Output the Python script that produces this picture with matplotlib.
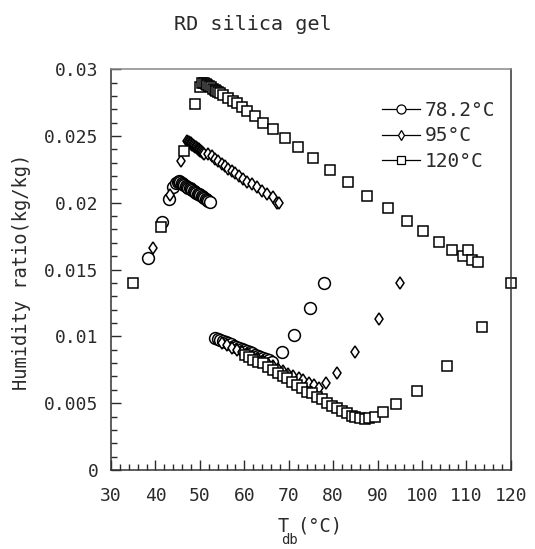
import matplotlib
matplotlib.use("Agg")
import matplotlib.pyplot as plt
from matplotlib.ticker import MultipleLocator

# 78.2 C regeneration (circles)
t_782 = [38.3, 41.5, 43.0, 44.0, 44.7, 45.0, 45.3, 45.6, 45.9, 46.2, 46.5, 46.8,
         47.1, 47.4, 47.7, 48.0, 48.3, 48.6, 48.9, 49.2, 49.5, 49.8, 50.1, 50.4,
         50.7, 51.0, 51.3, 51.6, 51.9, 52.3,
         53.4, 54.0, 54.6, 55.2, 55.8, 56.4, 57.0, 57.6, 58.2, 58.8, 59.4, 60.0,
         60.6, 61.2, 61.8, 62.4, 63.0, 63.6, 64.2, 64.8, 65.5, 66.2,
         68.5, 71.2, 74.8, 77.9]
w_782 = [0.01583, 0.01853, 0.0203, 0.0212, 0.0215, 0.02155, 0.0216, 0.02153,
         0.02147, 0.0214, 0.02134, 0.02127, 0.0212, 0.02114, 0.02107, 0.021,
         0.02094, 0.02087, 0.02081, 0.02075, 0.02068, 0.02062, 0.02055, 0.02049,
         0.02042, 0.02036, 0.02029, 0.02022, 0.02011, 0.02002,
         0.0099, 0.00982, 0.00973, 0.00965, 0.00956, 0.00948, 0.0094, 0.00931,
         0.00922, 0.00914, 0.00906, 0.00897, 0.00889, 0.0088, 0.00872, 0.00863,
         0.00855, 0.00846, 0.00838, 0.0083, 0.0082, 0.0081,
         0.00885, 0.0101, 0.0121, 0.0140]

# 95 C regeneration (diamonds)
t_95 = [39.5, 43.3, 45.75, 47.1, 47.3, 47.5, 47.7, 47.9, 48.1, 48.3, 48.5, 48.7,
        48.9, 49.1, 49.3, 49.5, 49.7, 49.9, 50.1, 50.3, 50.5, 50.7, 51.0,
        51.8, 52.7, 53.4, 54.1, 55.0, 55.65, 56.3,
        57.2, 57.9, 58.8, 59.7, 60.6, 61.7, 62.85, 64.0, 65.1, 66.5, 67.4, 67.8,
        55.0, 56.1, 57.2, 58.4, 59.5, 60.7, 61.8, 63.0, 64.1, 65.3, 66.4, 67.6,
        68.7, 69.9, 71.0, 72.2, 73.3, 74.5, 75.6, 76.8, 78.4, 80.9, 84.9, 90.3, 95.0]
w_95 = [0.01665, 0.0206, 0.0231, 0.0246, 0.02457, 0.02453, 0.0245, 0.02445,
        0.0244, 0.02435, 0.0243, 0.02426, 0.0242, 0.02416, 0.02411, 0.02406,
        0.02401, 0.02396, 0.0239, 0.02386, 0.02381, 0.02375, 0.02368,
        0.02363, 0.02348, 0.02325, 0.0231, 0.02288, 0.02273, 0.0225,
        0.02235, 0.0222, 0.02198, 0.02175, 0.02153, 0.02138, 0.02115, 0.02085,
        0.02063, 0.0204, 0.0200, 0.01995,
        0.0095, 0.00938, 0.00915, 0.009, 0.00885, 0.00865, 0.00848, 0.0083,
        0.00812, 0.00795, 0.00775, 0.00758, 0.0074, 0.0072, 0.00705, 0.00688,
        0.0067, 0.00652, 0.00635, 0.00615, 0.00653, 0.00728, 0.00885, 0.01133, 0.0140]

# 120 C regeneration (squares)
t_120 = [35.0, 41.25, 46.4, 48.9, 50.0, 50.5, 50.9, 51.3, 51.7, 52.1, 52.5, 52.9,
         53.3, 53.7, 54.1, 54.6, 55.2, 56.3, 57.5, 58.4, 59.5, 60.6, 62.4, 64.2,
         66.5, 69.2, 72.1, 75.5, 79.3, 83.3, 87.6, 92.3, 96.6, 100.2, 103.8,
         106.7, 109.2, 110.3, 111.2, 112.6, 113.5, 120.0,
         60.2, 61.1, 62.0, 63.1, 64.2, 65.3, 66.5, 67.6, 68.7, 69.6, 70.7, 71.9,
         73.0, 74.1, 75.2, 76.4, 77.5, 78.6, 79.7, 80.9, 82.0, 83.1, 84.2, 84.9,
         86.0, 87.2, 88.1, 89.4, 91.2, 94.1, 98.9, 105.6]
w_120 = [0.0140, 0.01815, 0.0239, 0.02738, 0.02865, 0.0290, 0.02895, 0.0289,
         0.02882, 0.02873, 0.02865, 0.02855, 0.02847, 0.02838, 0.0283, 0.02818,
         0.02805, 0.02783, 0.0276, 0.02745, 0.02715, 0.02685, 0.02648, 0.0260,
         0.0255, 0.02483, 0.02415, 0.02333, 0.02243, 0.02153, 0.02048, 0.01958,
         0.0186, 0.01785, 0.0171, 0.0165, 0.0160, 0.01643, 0.01568, 0.01553,
         0.0107, 0.0140,
         0.00863, 0.00845, 0.00825, 0.0081, 0.008, 0.00773, 0.0075, 0.00728,
         0.00705, 0.0069, 0.0066, 0.00638, 0.00615, 0.00585, 0.00575, 0.00548,
         0.00533, 0.00503, 0.0048, 0.00465, 0.00443, 0.00428, 0.00405, 0.00398,
         0.0039, 0.00383, 0.0039, 0.00398, 0.00435, 0.00495, 0.0059, 0.0078]

series_labels = ['78.2\u00b0C', '95\u00b0C', '120\u00b0C']
x_ticks = [30, 40, 50, 60, 70, 80, 90, 100, 110, 120]
y_ticks = [0, 0.005, 0.01, 0.015, 0.02, 0.025, 0.03]
y_labels = ["0", "0.005", "0.01", "0.015", "0.02", "0.025", "0.03"]

FONT = "DejaVu Sans Mono"
INK = '#2a2a2a'
plt.rcParams['font.family'] = FONT

fig = plt.figure(figsize=(5.35, 5.49), dpi=100)
ax = fig.add_axes([0.2075, 0.144, 0.7475, 0.730])

kw = dict(linestyle='none', mfc='white', mec='black', mew=1.1, clip_on=False)
ax.plot(t_782, w_782, marker='o', ms=8.5, **kw)
ax.plot(t_95, w_95, marker='d', ms=6.5, **kw)
ax.plot(t_120, w_120, marker='s', ms=7.5, **kw)

# legend handles: short line through a smaller marker
lk = dict(color='black', mfc='white', mec='black', lw=0.9, mew=0.9)
h1, = ax.plot([], [], marker='o', ms=6.5, **lk)
h2, = ax.plot([], [], marker='d', ms=5.5, **lk)
h3, = ax.plot([], [], marker='s', ms=6, **lk)
ax.legend([h1, h2, h3], series_labels,
          loc='upper left', bbox_to_anchor=(0.6775, 0.92), frameon=False,
          borderaxespad=0, borderpad=0,
          handlelength=1.95, handletextpad=0.25, labelspacing=0.32,
          prop={'family': FONT, 'size': 14}, labelcolor=INK)

ax.set_xlim(30, 120)
ax.set_ylim(0, 0.03)
ax.set_xticks(x_ticks)
ax.set_yticks(y_ticks)
ax.set_yticklabels(y_labels)
ax.xaxis.set_minor_locator(MultipleLocator(2))
ax.yaxis.set_minor_locator(MultipleLocator(0.001))
ax.tick_params(which='both', direction='in', top=False, right=False,
               labelsize=13, colors=INK)
ax.tick_params(which='major', length=7, width=1.0)
ax.tick_params(which='minor', length=4, width=1.0)
ax.tick_params(axis='y', which='major', pad=9)
ax.tick_params(axis='x', which='major', pad=12)
for s in ax.spines.values():
    s.set_color('#333333')
    s.set_linewidth(1.1)
ax.spines['top'].set_color('#888888')

fig.text(253 / 535, 1 - 25 / 549, 'RD silica gel', ha='center', va='center',
         fontsize=14.5, color=INK)
fig.text(22 / 535, 1 - 272 / 549, 'Humidity ratio(kg/kg)', ha='center',
         va='center', rotation=90, fontsize=13.5, color=INK)
fig.text(283 / 535, 1 - 526 / 549, 'T', ha='center', va='center',
         fontsize=13.5, color=INK)
fig.text(320 / 535, 1 - 526 / 549, '(\u00b0C)', ha='center', va='center',
         fontsize=13.5, color=INK)
fig.text(290 / 535, 1 - 540 / 549, 'db', ha='center', va='center',
         fontsize=10, color=INK)

fig.savefig('out.png', dpi=100)
